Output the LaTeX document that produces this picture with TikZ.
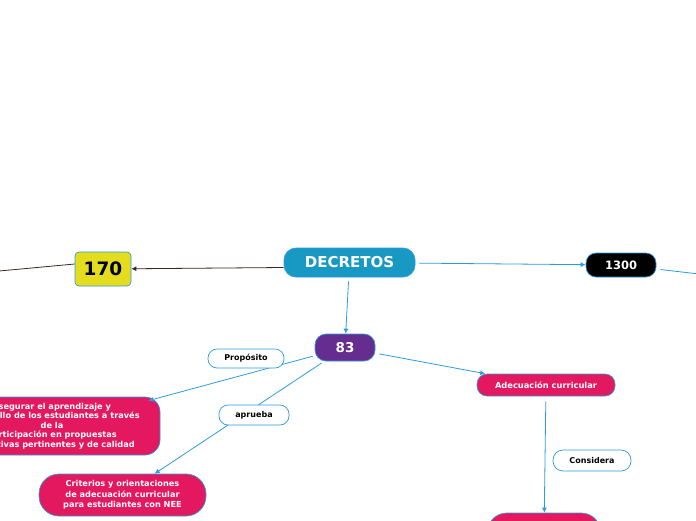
\documentclass[tikz,border=0pt]{standalone}
\usepackage{fontspec}
\setmainfont{DejaVu Sans}
\usetikzlibrary{positioning, arrows.meta}
\definecolor{mapblue}{HTML}{2D9BDF}
\definecolor{mapteal}{HTML}{1799C4}
\definecolor{mappink}{HTML}{E3185E}
\definecolor{mappurple}{HTML}{662D91}
\definecolor{mapyellow}{HTML}{E4DC1F}
\definecolor{mapbrown}{HTML}{3B2622}
\tikzset{
  topic/.style={draw=mapblue, line width=0.7pt, inner sep=0pt, align=center, text=white, font=\bfseries},
  tag/.style={draw=mapblue, fill=white, line width=0.7pt, rounded corners=9pt, minimum width=76pt, minimum height=19pt, inner sep=0pt, font=\bfseries\fontsize{8}{10}\selectfont},
  link/.style={draw=mapblue, line width=0.8pt, -{Latex[length=5pt,width=5pt]}},
  plain/.style={draw=mapblue, line width=0.8pt},
  darklink/.style={draw=mapbrown, line width=0.8pt, -{Latex[length=5pt,width=5pt]}}
}

\begin{document}
\begin{tikzpicture}[x=1pt,y=-1pt]
\useasboundingbox (0,0) rectangle (696,520);
\clip (0,0) rectangle (696,520);
\node[topic, fill=mapteal, minimum width=131pt, minimum height=29pt, rounded corners=12pt, font=\bfseries\fontsize{15}{18}\selectfont] (decretos) at (349.5,262.5) {DECRETOS};
\node[topic, fill=mapyellow, text=black, minimum width=56pt, minimum height=34pt, rounded corners=4pt, font=\bfseries\fontsize{18.5}{20}\selectfont] (n170) at (103,269) {170};
\node[topic, fill=black, minimum width=70pt, minimum height=24pt, rounded corners=10pt, font=\bfseries\fontsize{11.5}{13}\selectfont] (n1300) at (621,265) {1300};
\node[topic, fill=mappurple, minimum width=60pt, minimum height=27pt, rounded corners=11pt, font=\bfseries\fontsize{13.5}{15}\selectfont] (n83) at (345,347.5) {83};
\node[topic, fill=mappink, minimum width=216pt, minimum height=58pt, rounded corners=15pt, font=\bfseries\fontsize{8.2}{9.5}\selectfont] (goal) at (52,426)
  {asegurar el aprendizaje y\\desarrollo de los estudiantes a través\\de la\\participación en propuestas\\educativas pertinentes y de calidad};
\node[topic, fill=mappink, minimum width=167pt, minimum height=42pt, rounded corners=20pt, font=\bfseries\fontsize{8.2}{10.5}\selectfont] (criterios) at (122.5,495)
  {Criterios y orientaciones\\de adecuación curricular\\para estudiantes con NEE};
\node[topic, fill=mappink, minimum width=138pt, minimum height=22pt, rounded corners=10pt, font=\bfseries\fontsize{8.3}{10}\selectfont] (adecuacion) at (546,385) {Adecuación curricular};
\node[topic, fill=mappink, minimum width=114pt, minimum height=44pt, rounded corners=20pt] (lower) at (544,535) {};
\coordinate (offleft) at (-60,276.5);
\coordinate (offright) at (760,281);

\draw[darklink] ([yshift=-5pt]decretos.west) -- (n170);
\draw[mapbrown, line width=0.8pt] ([yshift=5pt]n170.west) -- (offleft);
\draw[link, shorten <=4pt] (decretos) -- (n1300);
\draw[plain, shorten <=4pt] (n1300) -- (offright);
\draw[link, shorten <=4pt] (decretos) -- (n83);
\draw[link, shorten <=2pt] (n83) -- ([shift={(-12,4)}]goal.north east);
\draw[link, shorten <=3pt] (n83) -- (criterios);
\draw[link, shorten <=4pt] (n83) -- (adecuacion);
\draw[link, shorten <=5pt] (adecuacion) -- (lower);

\node[tag] (proposito) at (246,358.5) {Propósito};
\node[tag, minimum width=70pt, minimum height=20pt] (aprueba) at (254,415) {aprueba};
\node[tag, minimum width=78pt, minimum height=21pt, rounded corners=10pt] (considera) at (592,460.5) {Considera};
\end{tikzpicture}
\end{document}
